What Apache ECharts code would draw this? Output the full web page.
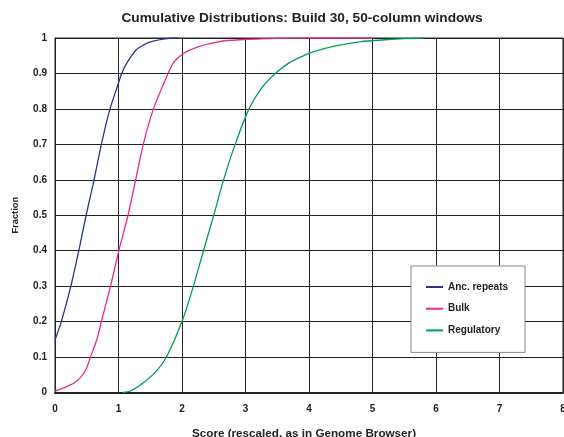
<!DOCTYPE html>
<html><head><meta charset="utf-8">
<script src="https://cdn.jsdelivr.net/npm/echarts@6/dist/echarts.min.js"></script>
<style>html,body{margin:0;padding:0;background:#fff}#c{width:564px;height:437px}</style>
</head><body><div id="c"></div>
<script>
const seriesNames = ['Anc. repeats', 'Bulk', 'Regulatory'];
const ancX = [0, 0.1, 0.25, 0.375, 0.49, 0.615, 0.73, 0.866, 1.0, 1.05, 1.13, 1.28, 1.46, 1.7, 1.91, 1.95];
const ancY = [0.148, 0.2, 0.3, 0.4, 0.5, 0.6, 0.7, 0.8, 0.873, 0.9, 0.929, 0.967, 0.986, 0.997, 1.0, 1.0];
const bulkX = [0, 0.1, 0.2, 0.3, 0.4, 0.5, 0.557, 0.657, 0.73, 0.875, 1.005, 1.15, 1.27, 1.39, 1.55, 1.78, 1.86, 2.01, 2.25, 2.59, 2.9, 3.5, 4.0, 5.0];
const bulkY = [0.004, 0.01, 0.018, 0.027, 0.042, 0.07, 0.1, 0.148, 0.2, 0.3, 0.4, 0.5, 0.6, 0.7, 0.8, 0.9, 0.929, 0.955, 0.975, 0.99, 0.995, 0.999, 1.0, 1.0];
const regX = [1.07, 1.2, 1.38, 1.59, 1.755, 2.0, 2.18, 2.338, 2.5, 2.655, 2.837, 3.055, 3.25, 3.47, 3.68, 3.89, 4.09, 4.4, 4.82, 5.2, 5.5, 5.8];
const regY = [0, 0.005, 0.026, 0.059, 0.1, 0.2, 0.3, 0.4, 0.5, 0.6, 0.7, 0.8, 0.858, 0.9, 0.929, 0.948, 0.962, 0.977, 0.99, 0.995, 0.998, 1.0];
const colors = ['#2b3590', '#ec2a8c', '#00a052'];

const zip = (xs, ys) => xs.map((x, i) => [x, ys[i]]);
const font = 'Liberation Sans, Arial, sans-serif';
const chart = echarts.init(document.getElementById('c'), null, {renderer: 'canvas'});
chart.setOption({
  animation: false,
  backgroundColor: '#fff',
  title: {
    text: 'Cumulative Distributions: Build 30, 50-column windows',
    left: 297, top: 6, textAlign: 'center',
    textStyle: {fontFamily: font, fontSize: 13.7, fontWeight: 'bold', color: '#222'}
  },
  grid: {left: 55, right: 1, top: 38, bottom: 44.5, show: true, borderColor: '#222', borderWidth: 1,
         backgroundColor: '#fff', outerBoundsMode: 'none', containLabel: false},
  xAxis: {
    type: 'value', min: 0, max: 8, interval: 1,
    name: 'Score (rescaled, as in Genome Browser)', nameLocation: 'middle', nameGap: 35,
    nameTextStyle: {fontFamily: font, fontSize: 11.7, fontWeight: 'bold', color: '#222', padding: [0, 10, 0, 0]},
    axisLine: {show: true, lineStyle: {color: '#222', width: 2}},
    axisTick: {show: false},
    axisLabel: {fontFamily: font, fontSize: 10, fontWeight: 'bold', color: '#222', margin: 12},
    splitLine: {show: true, lineStyle: {color: '#222', width: 1}}
  },
  yAxis: {
    type: 'value', min: 0, max: 1, interval: 0.1,
    name: 'Fraction', nameLocation: 'middle', nameGap: 35, nameRotate: 90,
    nameTextStyle: {fontFamily: font, fontSize: 9.3, fontWeight: 'bold', color: '#222'},
    axisLine: {show: true, lineStyle: {color: '#222', width: 1}},
    axisTick: {show: false},
    axisLabel: {fontFamily: font, fontSize: 10, fontWeight: 'bold', color: '#222', margin: 8},
    splitLine: {show: true, lineStyle: {color: '#222', width: 1}}
  },
  legend: {
    orient: 'vertical', left: 411, top: 266,
    data: seriesNames,
    icon: 'rect',
    backgroundColor: '#fff', borderColor: '#888', borderWidth: 1,
    padding: [14, 17, 15, 15],
    itemWidth: 17, itemHeight: 2, itemGap: 7.7, itemTextGap: 3,
    textStyle: {fontFamily: font, fontSize: 10, fontWeight: 'bold', color: '#222', lineHeight: 14, height: 14}
  },
  series: [
    {name: seriesNames[0], data: zip(ancX, ancY)},
    {name: seriesNames[1], data: zip(bulkX, bulkY)},
    {name: seriesNames[2], data: zip(regX, regY)}
  ].map((s, i) => Object.assign(s, {
    type: 'line', symbol: 'none', smooth: 0.2, color: colors[i],
    lineStyle: {width: 1.3, color: colors[i]}
  }))
});
</script></body></html>
